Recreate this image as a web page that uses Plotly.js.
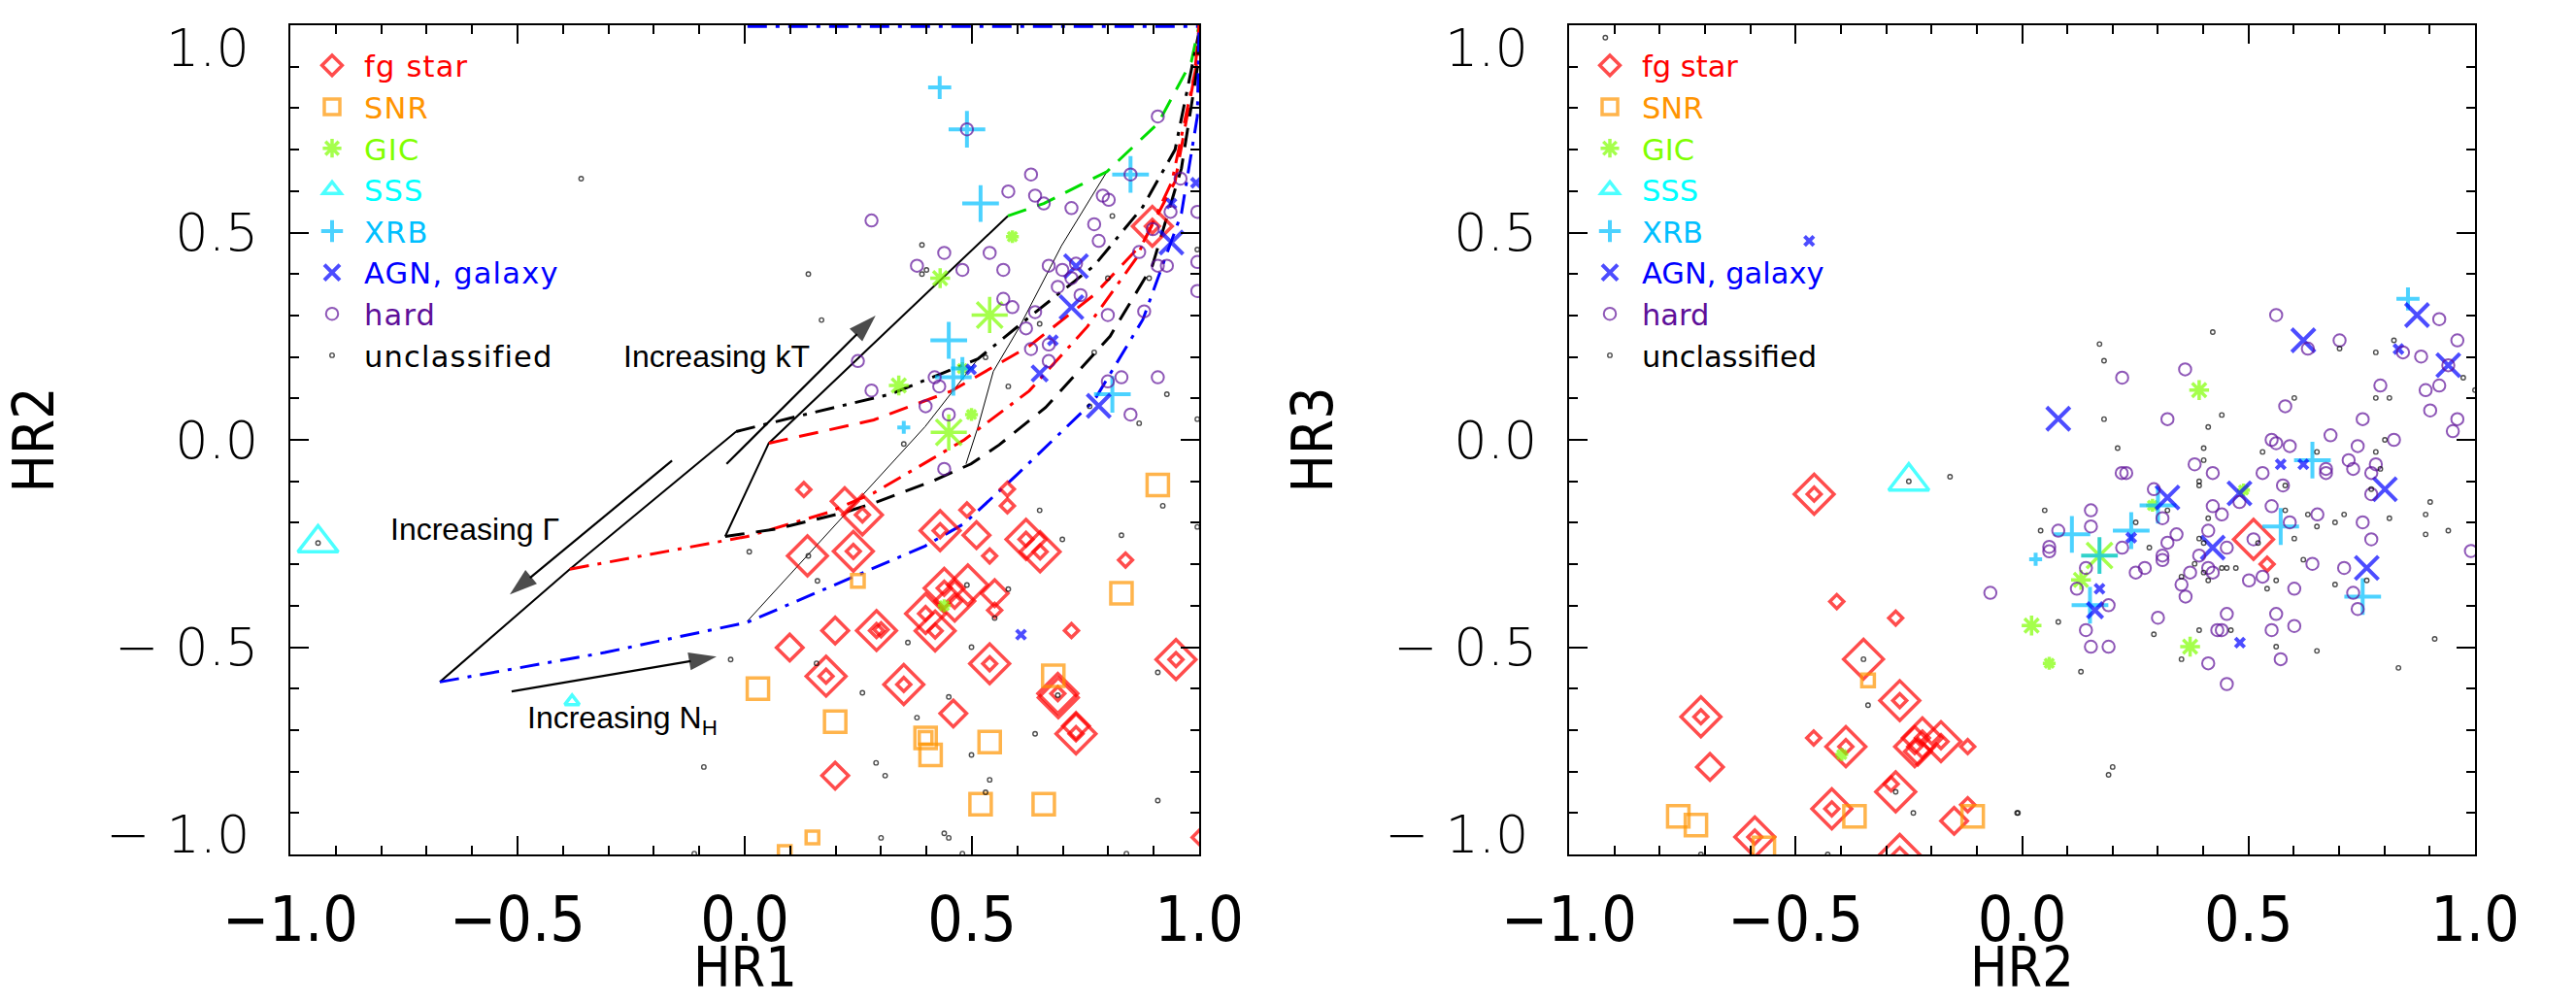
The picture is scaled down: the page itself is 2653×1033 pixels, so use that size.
<!DOCTYPE html>
<html><head><meta charset="utf-8">
<script src="https://cdn.plot.ly/plotly-3.0.1.min.js"></script>
<style>html,body{margin:0;padding:0;background:#fff;} #chart{width:2653px;height:1033px;} .legendtext{letter-spacing:1.2px;}</style>
</head><body><div id="chart"></div>
<script>
// ---------- DATA ----------
// point = [x, y, symbolLevel]  (symbolLevel: 1 small, 2 medium, 3 large)
// Left panel: HR1 (x) vs HR2 (y)
const fgStar_HR1HR2 = [
 [0.130,-0.120,1],[0.220,-0.148,2],[0.259,-0.181,3],[0.259,-0.181,1],[0.430,-0.219,3],[0.430,-0.219,1],
 [0.510,-0.230,2],[0.489,-0.169,1],[0.578,-0.119,1],[0.578,-0.159,1],[0.619,-0.240,3],[0.619,-0.240,1],
 [0.650,-0.270,3],[0.650,-0.270,1],[0.539,-0.280,1],[0.838,-0.290,1],[0.138,-0.280,3],[0.239,-0.269,3],
 [0.239,-0.269,1],[0.439,-0.358,3],[0.439,-0.358,1],[0.491,-0.350,3],[0.462,-0.389,3],[0.462,-0.389,1],
 [0.550,-0.370,2],[0.550,-0.411,1],[0.398,-0.419,3],[0.398,-0.419,1],[0.419,-0.461,3],[0.419,-0.461,1],
 [0.290,-0.460,3],[0.290,-0.460,1],[0.300,-0.458,1],[0.199,-0.460,2],[0.099,-0.501,2],[0.179,-0.570,3],
 [0.179,-0.570,1],[0.350,-0.590,3],[0.350,-0.590,1],[0.539,-0.540,3],[0.539,-0.540,1],[0.719,-0.460,1],
 [0.949,-0.530,3],[0.949,-0.530,1],[0.689,-0.612,3],[0.690,-0.622,3],[0.689,-0.612,1],[0.729,-0.709,3],
 [0.729,-0.709,1],[0.729,-0.690,2],[0.459,-0.660,2],[0.199,-0.810,2],[1.000,-0.959,1],
 [0.897,0.515,3],[0.897,0.515,1]
];
const snr_HR1HR2 = [
 [0.909,-0.109,2],[0.829,-0.370,2],[0.249,-0.340,1],[0.029,-0.600,2],[0.199,-0.680,2],[0.398,-0.719,2],
 [0.398,-0.719,1],[0.409,-0.760,2],[0.539,-0.729,2],[0.679,-0.569,2],[0.519,-0.879,2],[0.658,-0.879,2],
 [0.149,-0.959,1],[0.088,-0.994,1]
];
const gic_HR1HR2 = [
 [0.449,0.018,3],[0.439,-0.400,1],[0.589,0.490,1],[0.430,0.390,2],[0.539,0.301,3],[0.339,0.131,2],
 [0.499,0.061,1],[0.479,0.172,1]
];
const sss_HR1HR2 = [[-0.939,-0.249,3],[-0.380,-0.631,1]];
const xrb_HR1HR2 = [
 [0.429,0.850,2],[0.489,0.749,3],[0.519,0.570,3],[0.849,0.640,3],[0.449,0.240,3],[0.479,0.172,2],
 [0.459,0.151,3],[0.350,0.030,1],[0.809,0.110,3]
];
const agn_HR1HR2 = [
 [0.939,0.476,3],[0.729,0.419,3],[0.719,0.320,3],[0.779,0.082,3],[0.939,0.570,1],[0.993,0.620,1],
 [0.678,0.240,1],[0.649,0.160,2],[0.498,0.170,1],[0.608,-0.470,1]
];
const hard_HR1HR2 = [
 [0.279,0.529],[0.630,0.640],[0.580,0.599],[0.639,0.589],[0.658,0.570],[0.719,0.559],[0.909,0.780],
 [0.788,0.589],[0.801,0.579],[0.959,0.630],[0.937,0.550],[0.996,0.550],[0.769,0.520],[0.779,0.480],
 [0.898,0.508],[0.868,0.453],[0.909,0.420],[0.929,0.420],[0.996,0.429],[0.996,0.359],[0.439,0.451],
 [0.539,0.451],[0.379,0.420],[0.479,0.410],[0.569,0.410],[0.669,0.420],[0.699,0.410],[0.719,0.390],
 [0.689,0.369],[0.739,0.349],[0.569,0.340],[0.589,0.320],[0.639,0.308],[0.799,0.301],[0.879,0.310],
 [0.619,0.269],[0.630,0.219],[0.669,0.190],[0.669,0.230],[0.249,0.190],[0.279,0.119],[0.418,0.151],
 [0.428,0.129],[0.398,0.081],[0.449,0.061],[0.799,0.141],[0.829,0.151],[0.909,0.151],[0.849,0.061],
 [0.439,-0.070],[0.489,0.749],[0.849,0.640],[0.729,0.425]
];
const uncl_HR1HR2 = [
 [0.350,-0.010],[0.010,-0.270],[0.140,-0.280],[0.160,-0.340],[0.649,-0.170],[0.699,-0.240],[0.829,-0.230],
 [0.920,-0.159],[0.996,-0.210],[0.489,-0.350],[0.580,-0.360],[0.550,-0.430],[0.359,-0.489],[0.499,-0.500],
 [0.158,-0.539],[0.259,-0.610],[0.449,-0.620],[0.379,-0.670],[0.689,-0.616],[0.909,-0.561],[0.639,-0.709],
 [0.499,-0.760],[0.289,-0.779],[0.309,-0.810],[0.539,-0.820],[0.530,-0.850],[0.909,-0.870],[0.300,-0.960],
 [0.439,-0.949],[0.449,-0.960],[0.479,-0.998],[0.840,-0.998],
 [0.140,0.400],[0.169,0.289],[0.390,0.470],[0.390,0.400],[0.400,0.410],[0.530,0.199],[0.580,0.129],
 [0.649,0.280],[0.809,0.540],[0.799,0.390],[0.890,0.390],[0.769,0.211],[0.759,0.081],[0.929,0.110],
 [0.868,0.040],[0.996,0.459],[0.996,0.050],
 [-0.939,-0.249],[-0.031,-0.530],[-0.090,-0.789],[-0.111,-0.998],[-0.360,0.630]
];

// Right panel: HR2 (x) vs HR3 (y)
const fgStar_HR2HR3 = [
 [-0.459,-0.131,3],[-0.459,-0.131,1],[-0.409,-0.390,1],[-0.279,-0.430,1],[-0.350,-0.529,3],
 [-0.270,-0.629,3],[-0.270,-0.629,1],[-0.709,-0.668,3],[-0.709,-0.668,1],[-0.689,-0.789,2],
 [-0.460,-0.719,1],[-0.389,-0.740,3],[-0.389,-0.740,1],[-0.220,-0.719,3],[-0.220,-0.719,1],
 [-0.237,-0.740,3],[-0.237,-0.740,1],[-0.230,-0.752,2],[-0.179,-0.728,3],[-0.179,-0.728,1],
 [-0.120,-0.740,1],[-0.279,-0.849,3],[-0.289,-0.830,1],[-0.420,-0.890,3],[-0.420,-0.890,1],
 [-0.150,-0.919,2],[-0.120,-0.880,1],[-0.590,-0.958,3],[-0.590,-0.958,1],[-0.270,-1.000,3],
 [-0.270,-1.000,1],[0.511,-0.240,3],[0.541,-0.300,1]
];
const snr_HR2HR3 = [
 [-0.340,-0.580,1],[-0.759,-0.908,2],[-0.720,-0.929,2],[-0.370,-0.908,2],[-0.109,-0.908,2],[-0.570,-0.984,2]
];
const gic_HR2HR3 = [
 [-0.398,-0.759,1],[0.391,0.120,2],[0.171,-0.279,3],[0.130,-0.338,2],[0.021,-0.448,2],[0.060,-0.539,1],
 [0.371,-0.499,2],[0.489,-0.121,1],[0.288,-0.158,1]
];
const sss_HR2HR3 = [[-0.250,-0.100,3]];
const xrb_HR2HR3 = [
 [0.852,0.340,2],[0.641,-0.049,3],[0.571,-0.209,3],[0.110,-0.228,3],[0.241,-0.219,3],[0.171,-0.279,3],
 [0.150,-0.399,3],[0.030,-0.288,1],[0.300,-0.158,3],[0.752,-0.378,3]
];
const agn_HR2HR3 = [
 [-0.470,0.480,1],[0.872,0.301,3],[0.621,0.240,3],[0.941,0.180,3],[0.831,0.219,1],[0.080,0.051,3],
 [0.321,-0.139,3],[0.480,-0.129,3],[0.421,-0.260,3],[0.801,-0.119,3],[0.761,-0.309,3],[0.571,-0.059,1],
 [0.621,-0.059,1],[0.241,-0.236,1],[0.171,-0.359,1],[0.161,-0.411,2],[0.481,-0.489,1]
];
const hard_HR2HR3 = [
 [0.561,0.301],[0.631,0.220],[0.701,0.240],[0.921,0.291],[0.961,0.240],[0.841,0.211],[0.881,0.201],
 [0.941,0.180],[0.791,0.131],[0.891,0.120],[0.921,0.131],[0.901,0.071],[0.961,0.050],[0.951,0.021],
 [0.221,0.150],[0.360,0.170],[0.321,0.050],[0.581,0.081],[0.752,0.050],[0.681,0.011],[0.821,0.000],
 [0.551,0.000],[0.561,-0.008],[0.591,-0.015],[0.741,-0.015],
 [0.721,-0.049],[0.731,-0.070],[0.671,-0.070],[0.671,-0.080],[0.781,-0.059],[0.771,-0.080],[0.771,-0.131],
 [0.220,-0.080],[0.230,-0.080],[0.381,-0.059],[0.421,-0.080],[0.531,-0.080],[0.576,-0.110],[0.291,-0.119],
 [0.310,-0.189],[0.421,-0.160],[0.441,-0.180],[0.480,-0.150],[0.551,-0.160],[0.591,-0.199],[0.652,-0.180],
 [0.752,-0.199],[0.771,-0.240],[0.152,-0.170],[0.152,-0.209],[0.080,-0.219],[0.060,-0.258],[0.060,-0.269],
 [0.221,-0.260],[0.321,-0.248],[0.341,-0.228],[0.411,-0.219],[0.452,-0.260],[0.391,-0.279],[0.310,-0.279],
 [0.310,-0.290],[0.271,-0.309],[0.251,-0.320],[0.371,-0.320],[0.411,-0.309],[0.421,-0.320],[0.352,-0.349],
 [0.361,-0.378],[0.501,-0.339],[0.531,-0.330],[0.601,-0.359],[0.641,-0.299],[0.711,-0.309],[0.731,-0.369],
 [0.741,-0.408],[0.141,-0.309],[0.121,-0.359],[0.191,-0.399],[0.141,-0.459],[0.152,-0.499],[0.191,-0.499],
 [0.300,-0.429],[0.431,-0.459],[0.441,-0.459],[0.452,-0.420],[0.561,-0.420],[0.551,-0.459],[0.601,-0.449],
 [0.571,-0.529],[0.411,-0.539],[0.452,-0.589],[0.511,-0.240],[-0.070,-0.369],[0.991,-0.268]
];
const uncl_HR2HR3 = [
 [-0.920,0.970],[0.171,0.231],[0.181,0.191],[0.421,0.260],[0.701,0.220],[0.781,0.211],[0.821,0.240],
 [0.601,0.101],[0.781,0.101],[0.811,0.101],[0.441,0.060],[0.411,0.031],[0.181,0.050],[0.801,0.000],
 [0.974,0.150],[1.000,0.120],
 [0.211,-0.020],[0.401,-0.020],[0.401,-0.049],[0.531,-0.029],[0.651,-0.029],[0.781,-0.029],[0.791,-0.070],
 [0.391,-0.100],[0.391,-0.110],[0.581,-0.110],[0.771,-0.119],[0.901,-0.150],[0.050,-0.170],[0.321,-0.170],
 [0.411,-0.189],[0.581,-0.170],[0.631,-0.180],[0.711,-0.180],[0.811,-0.189],[0.891,-0.180],[0.251,-0.199],
 [0.651,-0.209],[0.691,-0.199],[0.891,-0.228],[0.941,-0.219],[0.041,-0.219],[0.391,-0.238],[0.401,-0.249],
 [0.601,-0.238],[0.521,-0.249],[0.281,-0.260],[0.381,-0.299],[0.441,-0.309],[0.452,-0.309],[0.472,-0.309],
 [0.621,-0.289],[0.401,-0.320],[0.352,-0.330],[0.411,-0.339],[0.561,-0.339],[0.541,-0.359],[0.691,-0.349],
 [0.761,-0.339],[0.080,-0.439],[0.291,-0.469],[0.391,-0.459],[0.461,-0.459],[0.911,-0.480],[0.561,-0.499],
 [0.651,-0.509],[0.352,-0.529],[0.130,-0.559],[0.831,-0.550],[0.200,-0.789],[0.191,-0.808],[-0.009,-0.900],
 [-0.250,-0.100],[-0.159,-0.089],[-0.350,-0.529],[-0.340,-0.640],[-0.279,-0.849],[-0.240,-0.900],
 [-0.011,-0.900],[-0.709,-1.000],[-0.429,-1.000]
];

// Model tracks in the HR1-HR2 plane
const trackGreenDash = [[0.579,0.540],[0.658,0.570],[0.797,0.647],[0.910,0.764],[0.983,0.913],[1.0,1.0]];
const trackBlackDashDot = [[-0.019,0.020],[0.128,0.060],[0.320,0.110],[0.513,0.195],[0.626,0.296],[0.769,0.420],[0.876,0.562],[0.947,0.700],[1.0,0.985]];
const trackRedDash = [[0.053,-0.008],[0.284,0.048],[0.455,0.118],[0.626,0.226],[0.769,0.350],[0.876,0.475],[0.947,0.623],[0.990,0.880],[1.0,1.0]];
const trackRedDashDot = [[-0.385,-0.312],[0.006,-0.233],[0.184,-0.175],[0.284,-0.128],[0.412,-0.046],[0.483,0.0],[0.626,0.118],[0.754,0.273],[0.861,0.437],[0.940,0.623],[0.996,0.913],[1.0,1.0]];
const trackBlackDash = [[-0.043,-0.233],[0.070,-0.215],[0.220,-0.175],[0.290,-0.150],[0.412,-0.100],[0.498,-0.058],[0.560,-0.012],[0.662,0.078],[0.804,0.250],[0.897,0.420],[0.961,0.655],[0.996,0.897],[1.0,1.0]];
const trackBlueDashDot = [[-0.671,-0.584],[-0.308,-0.513],[0.006,-0.440],[0.199,-0.350],[0.397,-0.256],[0.483,-0.202],[0.598,-0.085],[0.769,0.095],[0.876,0.290],[0.961,0.546],[0.996,0.780],[1.0,0.995]];
const trackTop = [[0.006,0.997],[1.0,0.997]];
const gridLineA = [[-0.671,-0.584],[-0.385,-0.312],[-0.019,0.020]];
const gridLineB = [[-0.043,-0.233],[0.053,-0.008],[0.579,0.540]];
const gridThin1 = [[0.006,-0.437],[0.200,-0.205],[0.397,0.032],[0.513,0.195]];
const gridThin2 = [[0.487,-0.058],[0.513,0.030],[0.547,0.165],[0.605,0.273],[0.697,0.468],[0.797,0.647]];
// arrows: [tailX, tailY, headX, headY]
const arrowKT = [-0.040,-0.058,0.288,0.300];
const arrowGamma = [-0.160,-0.050,-0.517,-0.373];
const arrowNH = [-0.513,-0.607,-0.062,-0.523];
const arrowLabels = ['Increasing kT','Increasing Γ','Increasing N<sub>H</sub>'];
const labelPos = [[-0.062,0.202],[-0.594,-0.216],[-0.483,-0.675]];

// tick labels and axis titles
const xTickValues = [-1,-0.5,0,0.5,1];
const xTickText = ['−1.0','−0.5','0.0','0.5','1.0'];
const yTickValues = [-0.5,0,0.5];
const yTickText = ['− 0.5','0.0','0.5'];
const yEndLabels = ['1.0','− 1.0'];   // drawn just inside the ends of the y axes
const xTitles = ['HR1','HR2'];
const yTitles = ['HR2','HR3'];
const legendNames = ['fg star','SNR','GIC','SSS','XRB','AGN, galaxy','hard','unclassified'];

// ---------- STYLE ----------
const cats = [
 {color:'#ff0000', symbol:'diamond-open', lw:3.5, sz:{1:11,2:21,3:31.5}},
 {color:'#ff9400', symbol:'square-open', lw:3.5, sz:{1:13,2:22,3:22}},
 {color:'#7fff00', symbol:'asterisk-open', lw:3.5, sz:{1:11,2:17,3:31}},
 {color:'#00ffff', symbol:'triangle-up-open', lw:3.5, sz:{1:13,2:24,3:36}},
 {color:'#00bfff', symbol:'cross-thin-open', lw:4, sz:{1:9.5,2:17,3:27}},
 {color:'#0000ff', symbol:'x-thin-open', lw:4, sz:{1:9.5,2:16,3:24}},
 {color:'#5e0f99', symbol:'circle-open', lw:2, sz:{1:12.5}},
 {color:'#000000', symbol:'circle-open', lw:1.4, sz:{1:4.5}}
];
const leftSets = [fgStar_HR1HR2, snr_HR1HR2, gic_HR1HR2, sss_HR1HR2, xrb_HR1HR2, agn_HR1HR2, hard_HR1HR2, uncl_HR1HR2];
const rightSets = [fgStar_HR2HR3, snr_HR2HR3, gic_HR2HR3, sss_HR2HR3, xrb_HR2HR3, agn_HR2HR3, hard_HR2HR3, uncl_HR2HR3];

const traces = [];
function lineTrace(pts, color, width, dash){
  traces.push({type:'scatter', mode:'lines', x:pts.map(p=>p[0]), y:pts.map(p=>p[1]), xaxis:'x', yaxis:'y',
    line:{color:color, width:width, dash:dash}, showlegend:false, hoverinfo:'skip'});
}
const DASH = '20px,12px', DASHDOT = '20px,9px,4px,9px';
lineTrace(trackTop,'#0000ff',3,DASHDOT);
lineTrace(gridLineA,'#000',2,'solid');
lineTrace(gridLineB,'#000',2,'solid');
lineTrace(gridThin1,'#000',1,'solid');
lineTrace(gridThin2,'#000',1,'solid');
lineTrace(trackGreenDash,'#00dd00',3,DASH);
lineTrace(trackBlackDashDot,'#000',3,DASHDOT);
lineTrace(trackRedDash,'#ff0000',3,DASH);
lineTrace(trackRedDashDot,'#ff0000',3,DASHDOT);
lineTrace(trackBlackDash,'#000',3,DASH);
lineTrace(trackBlueDashDot,'#0000ff',3,DASHDOT);
[arrowKT, arrowGamma, arrowNH].forEach(a=>{
  traces.push({type:'scatter', mode:'lines+markers', x:[a[0],a[2]], y:[a[1],a[3]], xaxis:'x', yaxis:'y',
    line:{color:'#000', width:2.2}, marker:{symbol:'arrow', size:[0,30], angleref:'previous', color:'#000', line:{width:0}},
    showlegend:false, hoverinfo:'skip'});
});

function markerTraces(sets, xa, ya, legend){
  sets.forEach((pts,i)=>{
    const c = cats[i];
    traces.push({type:'scatter', mode:'markers', xaxis:xa, yaxis:ya, legend:legend,
      x:pts.map(p=>p[0]), y:pts.map(p=>p[1]),
      name:'<span style="color:'+c.color+'">'+legendNames[i]+'</span>',
      marker:{symbol:c.symbol, size:pts.map(p=>c.sz[p[2]||1]), color:c.color, line:{color:c.color, width:c.lw}},
      hoverinfo:'skip'});
  });
}
markerTraces(leftSets,'x','y','legend');
markerTraces(rightSets,'x2','y2','legend2');

const W=2653, H=1033, ML=299, MR=104, MT=26, MB=153;
const PW = W-ML-MR, PH = H-MT-MB;
const narrow = 'Liberation Sans Narrow, DejaVu Sans Condensed, sans-serif';
const yTickFont = {family:'DejaVu Sans', size:54, weight:200, color:'#000'};
function xAxis(dom){
  return {domain:dom, range:[-1,1], showgrid:false, zeroline:false, showline:true, linecolor:'#000', linewidth:2,
    mirror:'ticks', ticks:'inside', ticklen:19, tickwidth:2, tickcolor:'#000', tickvals:xTickValues, ticktext:xTickText,
    minor:{dtick:0.1, tick0:0, ticks:'inside', ticklen:9, tickwidth:2, tickcolor:'#000', showgrid:false},
    tickfont:{family:narrow, size:64, color:'#000'}, ticklabeloverflow:'allow',
    ticklabelstandoff:10};
}
function yAxis(anchor, title){
  return {anchor:anchor, domain:[0,1], range:[-1,1], showgrid:false, zeroline:false, showline:true, linecolor:'#000', linewidth:2,
    mirror:'ticks', ticks:'inside', ticklen:19, tickwidth:2, tickcolor:'#000', tickvals:yTickValues, ticktext:yTickText,
    minor:{dtick:0.1, tick0:0, ticks:'inside', ticklen:9, tickwidth:2, tickcolor:'#000', showgrid:false},
    tickfont:yTickFont, ticklabeloverflow:'allow',
    ticklabelstandoff:20,
    title:{text:title, font:{family:narrow, size:58, color:'#000'}, standoff:44}};
}
const legendFont = {family:'DejaVu Sans', size:30.5, color:'#000'};
const legendBase = {xanchor:'left', yanchor:'top', bgcolor:'rgba(0,0,0,0)', font:legendFont, itemsizing:'trace', traceorder:'normal', itemwidth:56};

const annotations = arrowLabels.map((t,i)=>({xref:'x', yref:'y', x:labelPos[i][0], y:labelPos[i][1], text:t, showarrow:false,
    xanchor: i===2?'left':'center', yanchor:'middle', font:{family:'Liberation Sans, Arial, sans-serif', size:32, color:'#000'}}));
const END_POS = [0.946, -0.952];
[['x','y'],['x2','y2']].forEach(([xa,ya],p)=>{
  yEndLabels.forEach((t,k)=>{
    annotations.push({xref:xa+' domain', yref:ya, x:0, y:END_POS[k], text:t, showarrow:false,
      xanchor:'right', yanchor:'middle', xshift:-40, font:yTickFont});
  });
  // x-axis title, placed in the bottom margin
  annotations.push({xref:xa+' domain', yref:'paper', x:0.5, y:-MB/PH, text:xTitles[p], showarrow:false,
    xanchor:'center', yanchor:'bottom', yshift:2, font:{family:narrow, size:57, color:'#000'}});
});

const layout = {
  width:W, height:H, margin:{l:ML, r:MR, t:MT, b:MB}, paper_bgcolor:'#fff', plot_bgcolor:'#fff',
  xaxis: xAxis([0,(1235-ML)/PW]),
  yaxis: yAxis('x',yTitles[0]),
  xaxis2: Object.assign(xAxis([(1616-ML)/PW,1]),{anchor:'y2'}),
  yaxis2: yAxis('x2',yTitles[1]),
  legend: Object.assign({x:(309-ML)/PW, y:(880-41)/PH}, legendBase),
  legend2: Object.assign({x:(1625-ML)/PW, y:(880-41)/PH}, legendBase),
  annotations: annotations,
  showlegend:true
};
Plotly.newPlot('chart', traces, layout, {staticPlot:true, displayModeBar:false});
</script></body></html>
